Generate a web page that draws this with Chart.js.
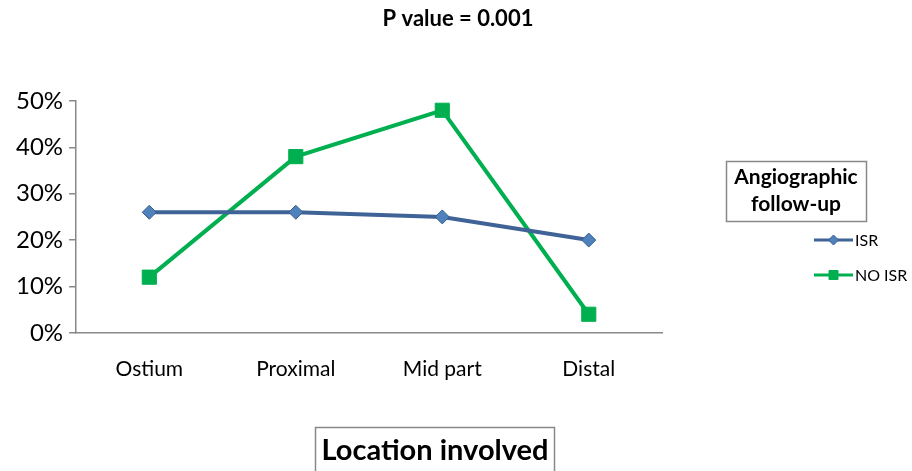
<!DOCTYPE html>
<html>
<head>
<meta charset="utf-8">
<script src="https://cdn.jsdelivr.net/npm/chart.js@4.4.1/dist/chart.umd.min.js"></script>
<style>
  html, body { margin: 0; padding: 0; background: #fff; }
  #wrap { width: 912px; height: 471px; position: relative; }
</style>
</head>
<body>
<div id="wrap"><canvas id="chart" width="912" height="471"></canvas></div>
<script>
const locations = ['Ostium', 'Proximal', 'Mid part', 'Distal'];
const isr = [26, 26, 25, 20];
const noIsr = [12, 38, 48, 4];
const yTicks = [0, 10, 20, 30, 40, 50];

const FONT = 'Lato, "Open Sans", sans-serif';

// titles, boxes and legend drawn by hand
const extras = {
    id: 'extras',
    afterDraw(c) {
        const ctx = c.ctx;
        ctx.save();
        ctx.fillStyle = '#000';
        ctx.textAlign = 'center';
        ctx.textBaseline = 'middle';

        ctx.font = 'bold 22px ' + FONT;
        ctx.fillText('P value = 0.001', 458, 19);

        // x axis title in a box
        ctx.font = 'bold 29px ' + FONT;
        ctx.fillText('Location involved', 435, 451);
        ctx.strokeStyle = '#888';
        ctx.lineWidth = 1.5;
        ctx.strokeRect(315.5, 427.5, 239, 50);

        // legend title box
        ctx.font = 'bold 21px ' + FONT;
        ctx.fillText('Angiographic', 796, 177);
        ctx.fillText('follow-up', 796, 204);
        ctx.strokeRect(726.5, 161.5, 140, 60);

        // legend items
        ctx.textAlign = 'left';
        ctx.font = '16px ' + FONT;
        const rows = [240, 275];
        c.data.datasets.forEach((ds, i) => {
            const y = rows[i];
            ctx.strokeStyle = ds.borderColor;
            ctx.lineWidth = 3;
            ctx.beginPath();
            ctx.moveTo(814, y);
            ctx.lineTo(853, y);
            ctx.stroke();
            ctx.fillStyle = ds.pointBackgroundColor;
            ctx.strokeStyle = ds.pointBorderColor;
            ctx.lineWidth = 1;
            ctx.beginPath();
            if (ds.pointStyle === 'rectRot') {
                ctx.moveTo(833.5, y - 5); ctx.lineTo(838.5, y); ctx.lineTo(833.5, y + 5); ctx.lineTo(828.5, y);
                ctx.closePath();
            } else {
                ctx.rect(829, y - 4.5, 9, 9);
            }
            ctx.fill();
            ctx.stroke();
            ctx.fillStyle = '#000';
            ctx.fillText(ds.label, 855, y + 1);
        });
        ctx.restore();
    }
};

new Chart(document.querySelector('#chart').getContext('2d'), {
    type: 'line',
    data: {
        labels: locations,
        datasets: [{
            label: 'ISR',
            data: isr,
            borderColor: '#3F6397',
            borderWidth: 4,
            pointStyle: 'rectRot',
            pointRadius: 7,
            pointBackgroundColor: '#4F81BD',
            pointBorderColor: '#385D8A',
            pointBorderWidth: 1,
            tension: 0
        }, {
            label: 'NO ISR',
            data: noIsr,
            borderColor: '#00B050',
            borderWidth: 4,
            pointStyle: 'rect',
            pointRadius: 10,
            pointBackgroundColor: '#00B050',
            pointBorderColor: '#00B050',
            pointBorderWidth: 1,
            tension: 0
        }]
    },
    options: {
        responsive: false,
        animation: false,
        layout: { padding: { top: 101, right: 250, bottom: 73, left: 10 } },
        plugins: { legend: { display: false }, title: { display: false }, tooltip: { enabled: false } },
        scales: {
            x: {
                offset: true,
                grid: { display: false },
                border: { display: true, color: '#888', width: 1.5 },
                ticks: { color: '#000', font: { family: FONT, size: 21 }, padding: 16 }
            },
            y: {
                min: 0,
                max: 50,
                afterBuildTicks: axis => { axis.ticks = yTicks.map(v => ({ value: v })); },
                grid: { drawOnChartArea: false, drawTicks: true, tickLength: 7, color: '#888', lineWidth: 1.5 },
                border: { display: true, color: '#888', width: 1.5 },
                ticks: {
                    color: '#000',
                    font: { family: FONT, size: 24 },
                    padding: 6,
                    callback: v => v + '%'
                }
            }
        }
    },
    plugins: [extras]
});
</script>
</body>
</html>
